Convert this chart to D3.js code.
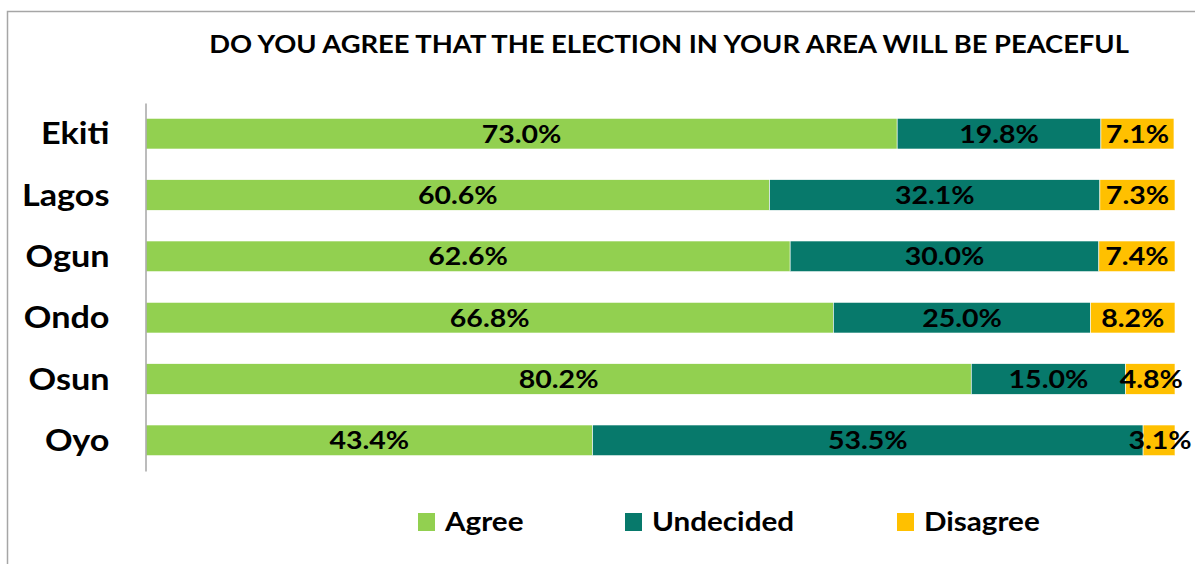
<!DOCTYPE html>
<html>
<head>
<meta charset="utf-8">
<script src="https://cdn.jsdelivr.net/npm/d3@7"></script>
<style>
  html, body { margin: 0; padding: 0; background: #fff; }
  svg { display: block; font-family: Lato, "Open Sans", sans-serif; }
</style>
</head>
<body>
<svg id="chart" width="1195" height="564"></svg>
<script>
// Survey responses per state (percent)
const states = ["Ekiti", "Lagos", "Ogun", "Ondo", "Osun", "Oyo"];
const agree = [73.0, 60.6, 62.6, 66.8, 80.2, 43.4];
const undecided = [19.8, 32.1, 30.0, 25.0, 15.0, 53.5];
const disagree = [7.1, 7.3, 7.4, 8.2, 4.8, 3.1];
const seriesNames = ["Agree", "Undecided", "Disagree"];
const seriesColors = ["#92D050", "#07796B", "#FFC000"];
const title = "DO YOU AGREE THAT THE ELECTION IN YOUR AREA WILL BE PEACEFUL";

// Horizontal stretch applied to all text for a wide, bold look
const SX = 1.14;
const stretch = (tx, ty) => `translate(${tx},${ty}) scale(${SX},1)`;

const svg = d3.select("#chart");

// Outer chart frame
svg.append("rect")
  .attr("x", 7.5).attr("y", 11.5)
  .attr("width", 1200).attr("height", 600)
  .attr("fill", "#fff").attr("stroke", "#a6a6a6").attr("stroke-width", 1.5);

svg.append("text")
  .attr("transform", stretch(669, 53))
  .attr("text-anchor", "middle")
  .attr("font-size", 24).attr("font-weight", "bold")
  .attr("fill", "#000")
  .text(title);

const rows = states.map((s, i) => ({ state: s, Agree: agree[i], Undecided: undecided[i], Disagree: disagree[i] }));
const stacked = d3.stack().keys(seriesNames)(rows);

const x = d3.scaleLinear().domain([0, 100]).range([146, 1175]);
const y = d3.scaleBand().domain(states).range([103, 471]).paddingInner(0.5).paddingOuter(0.25);
const color = d3.scaleOrdinal().domain(seriesNames).range(seriesColors);

const layers = svg.append("g").selectAll("g")
  .data(stacked).join("g")
  .attr("fill", d => color(d.key));

layers.selectAll("rect")
  .data(d => d.map(v => ({ key: d.key, v })))
  .join("rect")
  .attr("x", d => x(d.v[0]))
  .attr("y", d => y(d.v.data.state))
  .attr("width", d => x(d.v[1]) - x(d.v[0]))
  .attr("height", y.bandwidth())
  .attr("stroke", "#fff").attr("stroke-width", 0.6);

// Value labels centred in each segment
layers.selectAll("text")
  .data(d => d.map(v => ({ key: d.key, v })))
  .join("text")
  .attr("transform", d => stretch(
    (x(d.v[0]) + x(d.v[1])) / 2 + (d.key === "Disagree" && d.v[1] - d.v[0] < 6 ? 1 : 0),
    y(d.v.data.state) + y.bandwidth() / 2))
  .attr("dy", "0.36em")
  .attr("text-anchor", "middle")
  .attr("font-size", 25).attr("font-weight", "bold")
  .attr("fill", "#000")
  .text(d => (d.v[1] - d.v[0]).toFixed(1) + "%");

// Category axis
const yAxis = svg.append("g")
  .attr("transform", "translate(145.5,0)")
  .call(d3.axisLeft(y).tickSize(0).tickSizeOuter(0));
yAxis.select(".domain").attr("stroke", "#a6a6a6").attr("stroke-width", 1.5);
yAxis.selectAll(".tick text")
  .attr("x", 0)
  .attr("transform", stretch(-36, 1))
  .attr("font-size", 30).attr("font-weight", "bold")
  .attr("font-family", "Lato, 'Open Sans', sans-serif")
  .attr("fill", "#000");

// Legend
const legendX = [418, 625, 897];
const legend = svg.append("g").selectAll("g")
  .data(seriesNames).join("g")
  .attr("transform", (d, i) => `translate(${legendX[i]},513)`);
legend.append("rect")
  .attr("width", 17).attr("height", 18)
  .attr("fill", d => color(d));
legend.append("text")
  .attr("transform", stretch(27, 9))
  .attr("dy", "0.36em")
  .attr("font-size", 26).attr("font-weight", "bold")
  .attr("fill", "#000")
  .text(d => d);
</script>
</body>
</html>
